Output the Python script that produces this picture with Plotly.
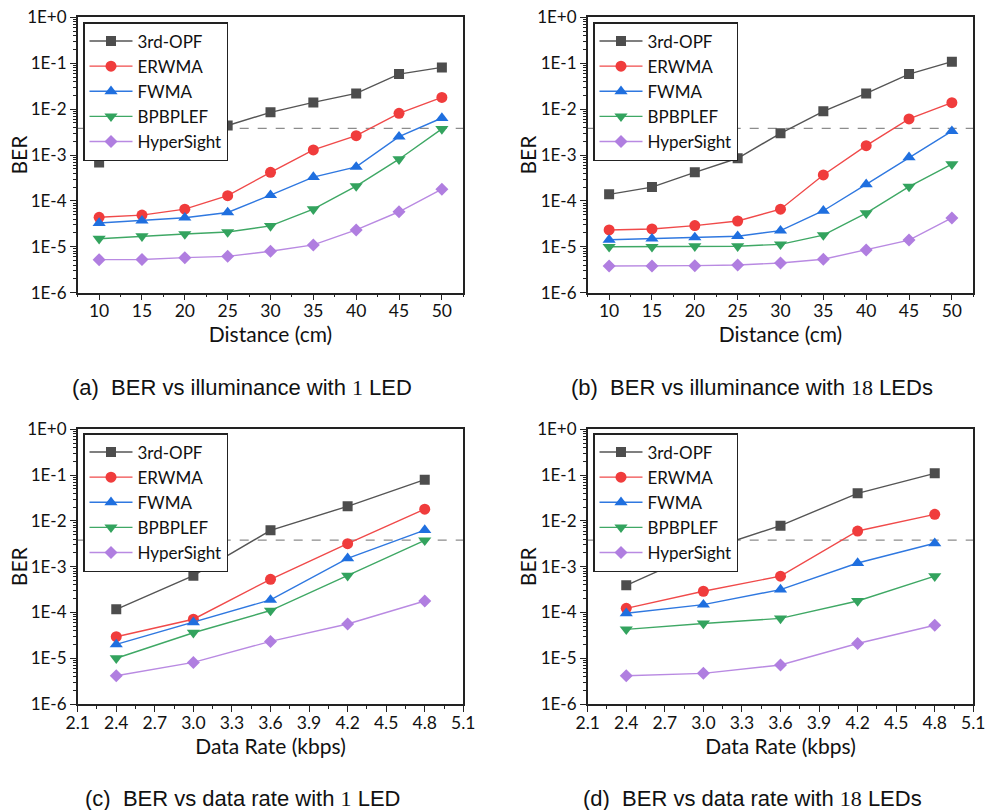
import plotly.graph_objects as go

# ---------------- data ----------------
series_names = ["3rd-OPF", "ERWMA", "FWMA", "BPBPLEF", "HyperSight"]

distance_cm = [10, 15, 20, 25, 30, 35, 40, 45, 50]
data_rate_kbps = [2.4, 3.0, 3.6, 4.2, 4.8]

# (a) BER vs distance, 1 LED
ber_a_opf = [6.9e-4, 1.7e-3, 2.7e-3, 4.4e-3, 8.5e-3, 1.4e-2, 2.2e-2, 5.8e-2, 8.1e-2]
ber_a_erwma = [4.4e-5, 4.9e-5, 6.6e-5, 1.3e-4, 4.2e-4, 1.29e-3, 2.64e-3, 8.1e-3, 1.8e-2]
ber_a_fwma = [3.3e-5, 3.7e-5, 4.3e-5, 5.6e-5, 1.33e-4, 3.3e-4, 5.5e-4, 2.5e-3, 6.4e-3]
ber_a_bpbplef = [1.5e-5, 1.7e-5, 1.9e-5, 2.1e-5, 2.85e-5, 6.6e-5, 2.1e-4, 8.1e-4, 3.7e-3]
ber_a_hyper = [5.25e-6, 5.3e-6, 5.8e-6, 6.2e-6, 8.0e-6, 1.1e-5, 2.33e-5, 5.8e-5, 1.8e-4]

# (b) BER vs distance, 18 LEDs
ber_b_opf = [1.39e-4, 2.0e-4, 4.2e-4, 8.5e-4, 2.97e-3, 8.95e-3, 2.2e-2, 5.8e-2, 0.108]
ber_b_erwma = [2.33e-5, 2.45e-5, 2.9e-5, 3.65e-5, 6.6e-5, 3.67e-4, 1.6e-3, 6.1e-3, 1.38e-2]
ber_b_fwma = [1.42e-5, 1.5e-5, 1.6e-5, 1.7e-5, 2.25e-5, 6.1e-5, 2.3e-4, 8.9e-4, 3.3e-3]
ber_b_bpbplef = [1.0e-5, 1.0e-5, 1.03e-5, 1.03e-5, 1.13e-5, 1.8e-5, 5.4e-5, 2.05e-4, 6.3e-4]
ber_b_hyper = [3.82e-6, 3.82e-6, 3.88e-6, 4.0e-6, 4.45e-6, 5.35e-6, 8.5e-6, 1.4e-5, 4.25e-5]

# (c) BER vs data rate, 1 LED
ber_c_opf = [1.17e-4, 6.35e-4, 6.2e-3, 2.08e-2, 7.94e-2]
ber_c_erwma = [2.95e-5, 7.1e-5, 5.3e-4, 3.18e-3, 1.8e-2]
ber_c_fwma = [2.0e-5, 6.1e-5, 1.88e-4, 1.52e-3, 6.3e-3]
ber_c_bpbplef = [1.0e-5, 3.6e-5, 1.1e-4, 6.35e-4, 3.76e-3]
ber_c_hyper = [4.15e-6, 8.1e-6, 2.33e-5, 5.6e-5, 1.78e-4]

# (d) BER vs data rate, 18 LEDs
ber_d_opf = [3.9e-4, 2.2e-3, 7.85e-3, 4.0e-2, 0.109]
ber_d_erwma = [1.23e-4, 2.9e-4, 6.2e-4, 6.0e-3, 1.39e-2]
ber_d_fwma = [9.6e-5, 1.48e-4, 3.15e-4, 1.2e-3, 3.24e-3]
ber_d_bpbplef = [4.27e-5, 5.75e-5, 7.4e-5, 1.78e-4, 6.2e-4]
ber_d_hyper = [4.15e-6, 4.67e-6, 7.1e-6, 2.1e-5, 5.25e-5]

fec_threshold = 3.8e-3

ytick_vals = [1e-6, 1e-5, 1e-4, 1e-3, 1e-2, 1e-1, 1]
ytick_text = ["1E-6", "1E-5", "1E-4", "1E-3", "1E-2", "1E-1", "1E+0"]
dist_ticks = [10, 15, 20, 25, 30, 35, 40, 45, 50]
rate_ticks = [2.1, 2.4, 2.7, 3.0, 3.3, 3.6, 3.9, 4.2, 4.5, 4.8, 5.1]
rate_tick_text = ["2.1", "2.4", "2.7", "3.0", "3.3", "3.6", "3.9", "4.2", "4.5", "4.8", "5.1"]

captions = [
    "(a)  BER vs illuminance with <span style='font-family:Liberation Serif'>1</span> LED",
    "(b)  BER vs illuminance with <span style='font-family:Liberation Serif'>18</span> LEDs",
    "(c)  BER vs data rate with <span style='font-family:Liberation Serif'>1</span> LED",
    "(d)  BER vs data rate with <span style='font-family:Liberation Serif'>18</span> LEDs",
]

# ---------------- styling ----------------
W, H = 986, 810
colors = ["#4d4d4d", "#f03c3c", "#1f6fdf", "#33a35e", "#b07ee0"]
line_colors = ["#555555", "#f04a4a", "#2f78e0", "#3fa865", "#b98ae2"]
symbols = ["square", "circle", "triangle-up", "triangle-down", "diamond"]
msizes = [10, 11, 11.5, 11.5, 10]
FONT = "Lato"

# plot areas in pixels: (x0, x1, y0_top, y1_bottom)
panels = [
    (77.7, 463.3, 17.3, 292.7),
    (587.7, 973.3, 17.3, 292.7),
    (77.7, 463.3, 429.3, 704.0),
    (587.7, 973.3, 429.3, 704.0),
]
legend_pos = [(83, 22), (593, 22), (83, 433), (593, 433)]
caption_pos = [(242, 387), (752, 387), (242, 798), (752, 798)]
ber_title_x = [18.5, 527.5, 18.5, 527.5]

panel_x = [distance_cm, distance_cm, data_rate_kbps, data_rate_kbps]
panel_y = [
    [ber_a_opf, ber_a_erwma, ber_a_fwma, ber_a_bpbplef, ber_a_hyper],
    [ber_b_opf, ber_b_erwma, ber_b_fwma, ber_b_bpbplef, ber_b_hyper],
    [ber_c_opf, ber_c_erwma, ber_c_fwma, ber_c_bpbplef, ber_c_hyper],
    [ber_d_opf, ber_d_erwma, ber_d_fwma, ber_d_bpbplef, ber_d_hyper],
]
x_ranges = [[7.5, 52.5], [7.5, 52.5], [2.1, 5.1], [2.1, 5.1]]
x_titles = ["Distance (cm)", "Distance (cm)", "Data Rate (kbps)", "Data Rate (kbps)"]

minor_y = [m * 10.0 ** e for e in range(-6, 0) for m in range(2, 10)]

fig = go.Figure()
layout = {}
annotations = []

for p in range(4):
    sfx = "" if p == 0 else str(p + 1)
    xa, ya = "x" + sfx, "y" + sfx
    leg = "legend" + sfx
    x0, x1, yt, yb = panels[p]

    # FEC threshold (drawn first so markers and legend sit above it)
    fig.add_trace(go.Scatter(
        x=x_ranges[p], y=[fec_threshold, fec_threshold], mode="lines",
        line=dict(color="#8c8c8c", width=1.2, dash="dash"),
        showlegend=False, hoverinfo="skip", xaxis=xa, yaxis=ya,
    ))
    for i, name in enumerate(series_names):
        fig.add_trace(go.Scatter(
            x=panel_x[p], y=panel_y[p][i], name=name, mode="lines+markers",
            line=dict(color=line_colors[i], width=1.4),
            marker=dict(symbol=symbols[i], size=msizes[i], color=colors[i],
                        line=dict(width=0)),
            xaxis=xa, yaxis=ya, legend=leg,
        ))

    if p < 2:
        xt = dict(tickvals=dist_ticks, ticktext=[str(v) for v in dist_ticks],
                  minor=dict(dtick=2.5, tick0=0, ticks="outside", ticklen=3,
                             tickwidth=1, tickcolor="#222"))
    else:
        xt = dict(tickvals=rate_ticks, ticktext=rate_tick_text,
                  minor=dict(dtick=0.15, tick0=2.1, ticks="outside", ticklen=3,
                             tickwidth=1, tickcolor="#222"))

    layout["xaxis" + sfx] = dict(
        domain=[x0 / W, x1 / W], anchor=ya, range=x_ranges[p],
        showline=True, linecolor="#222", linewidth=1.5, mirror=True,
        ticks="outside", ticklen=6, tickwidth=1.2, tickcolor="#222",
        ticklabelstandoff=-4,
        showgrid=False, zeroline=False, automargin=False,
        tickfont=dict(family=FONT, size=17.5, color="#111"),
        title=dict(text=x_titles[p], font=dict(family=FONT, size=21, color="#111"),
                   standoff=4),
        **xt,
    )
    layout["yaxis" + sfx] = dict(
        domain=[1 - yb / H, 1 - yt / H], anchor=xa, type="log", range=[-6, 0],
        showline=True, linecolor="#222", linewidth=1.5, mirror=True,
        ticks="outside", ticklen=6, tickwidth=1.2, tickcolor="#222",
        tickvals=ytick_vals, ticktext=ytick_text,
        minor=dict(tickvals=minor_y, ticks="outside", ticklen=3, tickwidth=1,
                   tickcolor="#222"),
        showgrid=False, zeroline=False, automargin=False,
        tickfont=dict(family=FONT, size=17, color="#111"),
    )
    # y-axis title placed as a rotated label beside the tick labels
    annotations.append(dict(
        text="BER", x=ber_title_x[p] / W, y=1 - (yt + yb) / 2 / H,
        xref="paper", yref="paper", xanchor="center", yanchor="middle",
        textangle=-90, showarrow=False,
        font=dict(family=FONT, size=21, color="#111"),
    ))
    lx, ly = legend_pos[p]
    layout[leg] = dict(
        x=lx / W, y=1 - ly / H, xanchor="left", yanchor="top",
        xref="paper", yref="paper",
        bgcolor="white", bordercolor="#222", borderwidth=1.5,
        font=dict(family=FONT, size=17, color="#111"),
        itemwidth=43, tracegroupgap=0,
    )

for p in range(4):
    cx, cy = caption_pos[p]
    annotations.append(dict(
        text=captions[p], x=cx / W, y=1 - cy / H, xref="paper", yref="paper",
        xanchor="center", yanchor="middle", showarrow=False,
        font=dict(family="Liberation Sans", size=22, color="#111"),
    ))

fig.update_layout(
    width=W, height=H,
    margin=dict(l=0, r=0, t=0, b=0, autoexpand=False),
    paper_bgcolor="white", plot_bgcolor="white",
    annotations=annotations,
    **layout,
)

fig.write_html("out.html")
